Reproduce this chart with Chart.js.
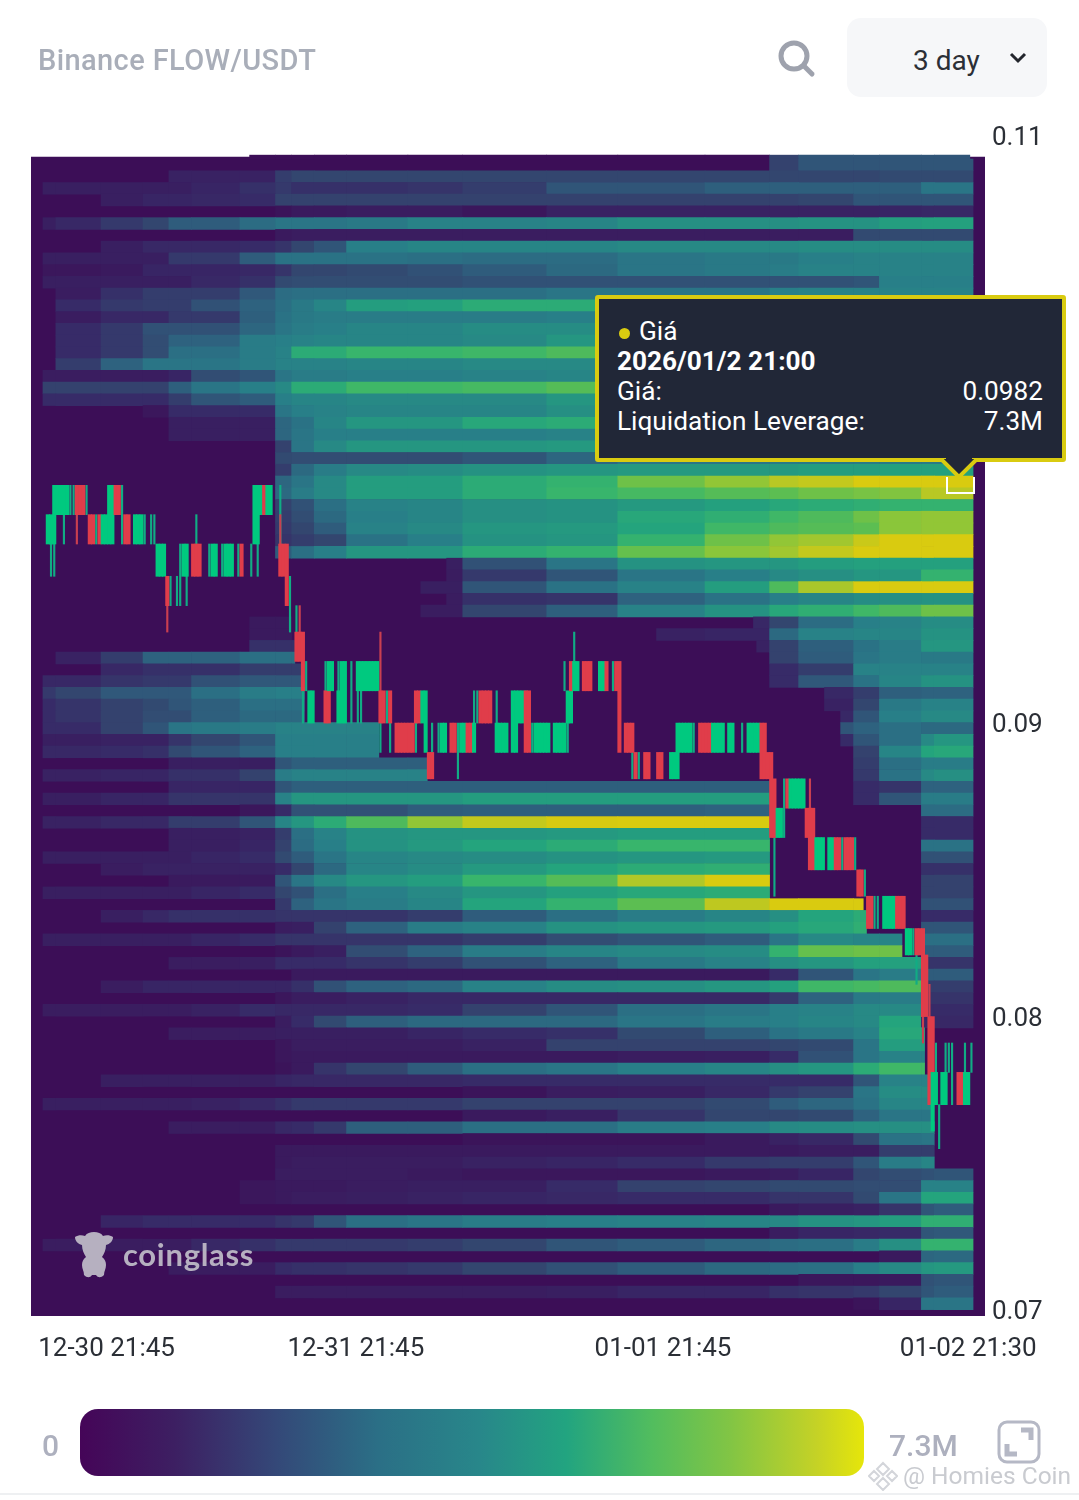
<!DOCTYPE html>
<html>
<head>
<meta charset="utf-8">
<title>Binance FLOW/USDT</title>
<script src="https://cdn.jsdelivr.net/npm/chart.js@4"></script>
<style>
body { margin: 0; background: #fff; width: 1079px; height: 1500px; position: relative; overflow: hidden; font-family: Roboto, sans-serif; }
#heatmap { position: absolute; left: 0; top: 0; }
.abs { position: absolute; white-space: nowrap; }
#title { left: 38px; top: 42px; font-size: 29px; font-weight: 500; color: #a9aeb9; line-height: 36px; letter-spacing: .4px; }
#select { left: 847px; top: 18px; width: 200px; height: 79px; background: #f6f7f9; border-radius: 14px; }
#period { left: 913px; top: 43px; font-size: 28px; color: #2b2f36; line-height: 36px; }
#tip { left: 595px; top: 295px; width: 463px; height: 159px; background: #212737; border: 4px solid #d9cb10; border-radius: 3px; color: #fff; font-size: 26.2px; line-height: 30px; }
#tip div { position: absolute; left: 18px; right: 19px; white-space: nowrap; }
#tip span.val { position: absolute; right: 0; }
#dot { display: inline-block; width: 11px; height: 11px; border-radius: 50%; background: #d9cb10; margin: 0 9px 1px 2px; }
#cell { left: 946px; top: 477px; width: 25px; height: 15px; border: 2px solid #fff; border-top: 0; }
#legendBar { left: 80px; top: 1409px; width: 784px; height: 67px; border-radius: 18px; }
#legendMin { left: 42px; top: 1428px; font-size: 30px; font-weight: 500; color: #adb0be; line-height: 36px; }
#legendMax { left: 889px; top: 1428px; font-size: 30px; font-weight: 500; color: #adb0be; line-height: 36px; }
#mark { left: 123px; top: 1235px; font-size: 31px; font-weight: 700; color: #b6b0c0; line-height: 38px; font-family: Lato, sans-serif; letter-spacing: .7px; }
#watermark { left: 903px; top: 1461px; font-size: 24.5px; color: #c9cbd0; line-height: 30px; }
#rule { left: 0; top: 1493px; width: 1079px; height: 2px; background: #eef0f2; }
</style>
</head>
<body>
<canvas id="heatmap" width="1079" height="1500"></canvas>

<div class="abs" id="title">Binance FLOW/USDT</div>
<svg class="abs" style="left:776px;top:38px" width="40" height="40" viewBox="0 0 40 40" fill="none" stroke="#9ea2ad" stroke-width="5"><circle cx="18" cy="18" r="13"/><path d="M28 28l8 8" stroke-linecap="round"/></svg>
<div class="abs" id="select"></div>
<div class="abs" id="period">3 day</div>
<svg class="abs" style="left:1008px;top:50px" width="20" height="16" viewBox="0 0 20 16" fill="none" stroke="#23262d" stroke-width="3"><path d="M3 4l7 7 7-7"/></svg>

<div class="abs" id="tip">
  <div style="top:17px"><span id="dot"></span>Giá</div>
  <div style="top:47px;font-weight:700">2026/01/2 21:00</div>
  <div style="top:77px">Giá:<span class="val">0.0982</span></div>
  <div style="top:107px">Liquidation Leverage:<span class="val">7.3M</span></div>
</div>
<svg class="abs" style="left:939px;top:458px" width="40" height="22" viewBox="0 0 40 22"><path d="M2 1L20 19 38 1" fill="#212737" stroke="#d9cb10" stroke-width="4"/><path d="M7 0h26v1H7z" fill="#212737"/></svg>
<div class="abs" id="cell"></div>

<svg class="abs" style="left:73px;top:1231px" width="42" height="48" viewBox="0 0 42 48" fill="#b6b0c0"><path d="M2 6c3-2 7-2 10-1 2-3 5-4 9-4s7 1 9 4c3-1 7-1 10 1 0 4-3 7-7 8 0 5-2 9-4 12 3 2 4 5 4 8 0 4-2 6-2 10-3 3-6 3-8 0h-4c-2 3-5 3-8 0 0-4-2-6-2-10 0-3 1-6 4-8-2-3-4-7-4-12C5 13 2 10 2 6z"/></svg>
<div class="abs" id="mark">coinglass</div>

<div class="abs" id="legendBar"></div>
<div class="abs" id="legendMin">0</div>
<div class="abs" id="legendMax">7.3M</div>
<svg class="abs" style="left:997px;top:1420px" width="44" height="44" viewBox="0 0 44 44" fill="none" stroke="#b5b8c5" stroke-width="3"><rect x="2" y="2" width="40" height="40" rx="8"/><path d="M24 10h10v10M10 24v10h10" stroke-width="5"/></svg>
<svg class="abs" style="left:868px;top:1461px" width="30" height="30" viewBox="0 0 30 30" fill="none" stroke="#d3d5da" stroke-width="2"><path d="M15 2l6 6-6 6-6-6zM6 10l5 5-5 5-5-5zM24 10l5 5-5 5-5-5zM15 17l6 6-6 6-6-6z"/></svg>
<div class="abs" id="watermark">@ Homies Coin</div>
<div class="abs" id="rule"></div>

<script>
// time buckets of the heat cells, in 15 minute candles from the first candle
const timeBreaks = [0, 4, 18, 31, 39, 46, 61, 72, 77, 84, 94, 113, 130, 156, 178, 205, 225, 234, 251, 259, 272, 276, 288];

// liquidation leverage in millions, one row per price level, top row first
const heatRows = [
  [0,0,0,0,0,0,0,0,0,0,0,0,0,0,0,0,1.5,2,2,2,2,2],
  [0,0,0,0,.7,.7,.7,1.4,1.6,1.6,1.6,1.6,1.6,1.6,1.6,1.6,1.6,1.6,1.6,1.7,1.7,1.7],
  [.6,.6,.6,.6,.6,.8,1.1,1.3,1.1,1.1,1.1,1.2,1.4,2,2,2.3,2.3,2.3,2.3,2.3,3,3],
  [0,0,.6,.8,.8,.9,1,1.5,1.5,1.5,1.5,1.5,1.5,1.5,1.5,1.5,1.5,1.6,2,2,2,2],
  [0,0,0,0,0,0,0,.2,.4,.4,.5,.5,.3,.7,.7,.7,.7,.7,.7,.8,.9,.9],
  [.6,.9,1.3,1.6,2.2,2.2,2.7,3,3,3,3.1,3.4,3.4,3.5,3.8,3.8,3.8,3.9,3.9,4.2,4.3,4.3],
  [0,0,0,0,0,0,0,.4,.5,.5,.5,.5,.5,.5,.5,.5,.5,.5,1.7,1.7,1.7,1.7],
  [0,0,.6,.9,.9,.9,1,1.2,1.6,2,3.3,3.5,3.5,3.5,3.6,3.6,3.6,3.7,3.7,3.7,3.7,3.7],
  [.6,.6,.6,.6,1.3,1.3,2.2,2.9,2.9,2.9,2.9,2.8,2.7,2.7,3,3.1,3.1,3.3,3.4,3.4,3.4,3.4],
  [.3,.3,.4,.8,.8,.8,.9,1.2,1.6,1.6,1.7,1.9,2.2,2.6,3,3.1,3.2,3.4,3.4,3.4,3.4,3.4],
  [.6,.6,.6,.6,.6,.9,1.1,1.7,1.8,1.8,1.8,1.8,1.9,1.9,1.9,1.9,1.9,1.9,2,3.3,3.3,3.3],
  [0,.5,1.1,1.4,1.4,1.4,2.1,2.7,2.8,2.8,2.8,2.8,2.8,3,3,3,3.3,3.4,3.4,3.4,3.4,3.4],
  [0,1,1.3,1.4,1.4,1.9,2.4,2.8,3.1,3.5,4.2,4.3,4.6,4.6,4.7,4.7,4.7,4.7,4.7,4.7,4.7,4.7],
  [0,.5,.9,.9,1.3,1.3,2.3,2.9,3.1,3.2,3.2,3.2,3.2,3.3,3.3,3.3,3.3,3.3,3.3,3.3,3.3,3.3],
  [0,1,1.3,1.9,1.9,1.9,2.5,3,3.2,3.3,3.5,3.5,3.7,3.7,3.8,3.8,3.8,3.8,3.8,3.8,3.8,3.8],
  [0,1,1.3,1.8,2.4,2.4,3.2,3.3,3.4,3.5,3.5,3.5,3.6,4,4,4,4,4,4,4,4,4],
  [0,1,1.3,1.8,2.8,2.8,3.2,3.4,4.6,4.6,4.9,4.9,5,5.2,5.2,5.2,5.2,5.2,5.2,5.2,5.2,5.2],
  [0,1.4,2.4,3,3,3,3.2,3.4,3.4,3.4,3.5,3.5,3.6,3.6,3.6,3.6,3.6,3.6,3.6,3.6,3.6,3.6],
  [.5,.5,.5,.5,.8,1.8,2,3,3.2,3.2,3.3,3.3,3.4,3.5,3.5,3.5,3.5,3.5,3.5,3.5,3.5,3.5],
  [1.5,1.5,1.5,1.5,2.3,3,3.3,3.6,4.6,4.6,5,5,5.1,5.3,5.3,5.3,5.3,5.3,5.3,5.3,5.3,5.3],
  [1,1,1,1,1.4,2,2.2,3.3,3.5,3.5,3.6,3.6,3.6,4,4,4,4,4,4,4,4,4],
  [0,0,0,.3,1,1,1,3,3.3,3.4,3.5,3.5,3.5,3.8,3.8,3.8,3.8,3.8,3.8,3.8,3.8,3.8],
  [0,0,0,0,.6,.6,.6,2.5,2.9,3.5,4,4,4.5,4.6,4.6,4.6,4.6,4.6,4.6,4.6,4.6,4.6],
  [0,0,0,0,.6,.6,.6,2.5,3,3.3,3.3,3.3,3.3,3.4,3.4,3.4,3.4,3.4,3.4,3.4,3.4,3.4],
  [0,0,0,0,0,0,0,1.5,3,3.6,4,4,4,4.1,4.1,4.1,4.1,4.1,4.1,4.1,4.1,4.1],
  [0,0,0,0,0,0,0,1.7,1.8,1.8,1.8,1.8,2,2.5,3,3,3.1,3.1,3.1,3.1,3.1,3.1],
  [0,0,0,0,0,0,0,1.4,2.6,3.2,3.6,3.7,3.9,4,4.1,4.1,4.1,4.2,4.2,4.3,4.3,4.3],
  [0,0,0,0,0,0,0,2.5,3,3.6,4.2,4.2,4.6,4.8,5.6,6,6.5,6.7,7.3,7.3,7.3,7.3],
  [0,0,0,0,0,0,0,2.6,3.2,3.6,4.2,4.2,4.6,4.9,5.1,5.3,5.4,5.6,5.7,5.8,6.5,6.5],
  [0,0,0,0,0,0,0,1.5,1.9,2.8,3.4,3.5,3.8,3.9,4.1,4.3,4.5,4.6,4.7,4.8,4.8,4.8],
  [0,0,0,0,0,0,0,1.4,1.8,2.6,3.3,3.5,3.8,3.9,4.5,4.7,5,5.2,5.6,5.9,6,6],
  [0,0,0,0,0,0,0,1.3,1.6,2.2,3.4,3.6,4,4.1,4.4,5,5.2,5.3,5.4,5.9,6,6],
  [0,0,0,0,0,0,0,1.2,1.4,1.6,2.9,3.3,3.9,4,4.8,5.6,6,6.2,6.8,7.3,7.3,7.3],
  [0,0,0,0,0,0,0,2.2,2.8,3.3,4,4,4.6,4.8,5.5,5.9,6.2,6.7,7.3,7.3,7.3,7.3],
  [0,0,0,0,0,0,0,0,0,0,0,.6,1.9,3,3.9,4,4,4.2,4.3,4.3,4.3,4.3],
  [0,0,0,0,0,0,0,0,0,0,0,.5,1.3,2,3,3.3,3.6,3.8,4,4,4.8,4.8],
  [0,0,0,0,0,0,0,0,0,0,0,.6,2,2.9,3.4,4.2,5.2,6.3,7.3,7.3,7.3,7.3],
  [0,0,0,0,0,0,0,0,0,0,0,.5,1.1,1.2,2.4,2.9,3.3,3.5,3.7,3.8,3.9,3.9],
  [0,0,0,0,0,0,0,0,0,0,0,.5,1.6,2.3,3.4,3.9,4.5,4.7,5,5.2,5.6,5.6],
  [0,0,0,0,0,0,.4,.4,0,0,0,0,0,0,0,.9,1.6,2.7,3.3,3.4,3.7,3.7],
  [0,0,0,0,0,0,.4,.4,0,0,0,0,0,0,.7,.8,2.6,3.4,3.5,3.5,3.9,3.9],
  [0,0,0,0,0,0,1.1,1.1,1.1,0,0,0,0,0,0,.7,1.5,2.3,2.9,3.2,4,4],
  [0,.7,1.4,2.4,2.4,2.4,2.8,2.8,2.8,0,0,0,0,0,0,0,1.5,2.2,3,3.2,3.1,3.1],
  [0,0,.9,1.1,1.1,1.1,1.4,1.4,1.4,0,0,0,0,0,0,0,1,1.4,3.4,3.4,3.4,3.4],
  [.9,.9,1.2,1.3,1.3,1.9,2.1,2.1,2.1,0,0,0,0,0,0,0,1,2.1,2.9,3.5,3.9,3.9],
  [1.3,1.6,2.1,2.1,2.1,2.8,3.2,3.3,3.3,0,0,0,0,0,0,0,0,.9,1.4,2.3,2.4,2.4],
  [1,1.2,1.5,1.7,2,2.3,2.8,2.8,2.8,0,0,0,0,0,0,0,0,.7,1.6,3.1,3.4,3.4],
  [1,1.2,1.5,1.8,1.8,2.3,2.6,2.6,2.6,0,0,0,0,0,0,0,0,.9,2,3.3,3.6,3.6],
  [1,1,1.5,2,3,3.1,3.2,3.4,3.4,3.4,3.4,0,0,0,0,0,0,2,2.4,2.8,2.6,2.6],
  [.6,.6,.7,.7,1.2,1.6,2,3.3,3.3,3.3,3.3,0,0,0,0,0,0,1,2,2.8,3.6,4],
  [.9,.9,1,1.1,1.7,2,2.4,3.3,3.3,3.3,3.3,0,0,0,0,0,0,0,1.5,3.5,4.4,4.5],
  [0,0,0,0,.6,.6,.6,2,2.3,2.3,2.3,2.3,0,0,0,0,0,0,1.4,2.8,3.2,3.2],
  [.7,.7,.8,.8,1.1,1.1,1.5,3.2,3.4,3.4,3.4,3.4,0,0,0,0,0,0,1.3,2.9,3.6,3.8],
  [0,0,0,0,.8,.8,.8,2,2.3,2.3,2.3,2.3,2.3,2.3,2.3,2.3,0,0,1,1.2,2.4,2.4],
  [.6,.6,.8,.8,1.2,1.2,1.2,3.4,4,4,4,4,4.2,4.2,4.2,4.2,0,0,1,2,3.2,3.2],
  [0,0,0,0,0,0,.3,1,1.9,1.9,1.9,2.2,2.3,2.3,2.3,2.4,0,0,0,0,2.7,2.7],
  [.7,.7,.9,.9,1.4,1.4,2,3.5,4,4.6,5.2,6,6.7,7.1,7.3,7.3,0,0,0,0,1,1],
  [0,0,0,0,.6,.6,.7,1.4,2.8,3.4,3.9,4,4,4.1,4.2,4.2,0,0,0,0,1,1],
  [0,0,0,0,.6,.6,.8,1.5,2.7,3.3,3.9,4.1,4.4,4.6,4.9,4.9,0,0,0,0,2.9,2.9],
  [.6,.6,.6,.6,.6,.8,1,1.7,2.2,3,3.5,3.6,3.7,3.9,4,4.1,0,0,0,0,1.9,1.9],
  [0,0,.5,.7,.7,.7,.7,1,1.6,2.6,3.5,3.7,4.1,4.4,4.6,4.7,0,0,0,0,1.1,1.1],
  [0,0,0,0,.4,.4,.4,2,3,3.6,4,4.2,4.9,5.3,6.4,7.3,0,0,0,0,1.5,1.5],
  [.6,.6,.6,.6,.6,.8,1,1.6,1.9,2.8,3.3,3.6,4,4.3,4.5,4.6,0,0,0,0,1.5,1.5],
  [0,0,0,0,0,0,0,1.3,2.4,3,3.2,3.5,4.4,4.8,5.4,6.6,7.3,7.3,7.3,0,1.9,1.9],
  [0,0,.6,.9,1.1,1.1,1.1,1.2,1.2,1.2,1.2,1.4,2.2,2.8,3.2,3.5,3.8,4.4,4.6,0,1,1],
  [0,0,0,0,0,0,0,.5,.6,1.5,2.4,3.2,3.4,3.9,4,4.1,4.3,4.5,4.7,0,2,2],
  [.6,.6,.6,.6,.6,.8,1,1.2,1.2,1.2,1.2,1.2,1.4,1.8,2,2.2,3,3.6,3.5,3.5,2.8,2.8],
  [0,0,0,0,0,0,0,.2,.4,.6,1.8,2.4,3.2,3.5,3.6,3.7,4.8,5.5,5.6,5.6,2.2,2.2],
  [0,0,0,0,.5,.5,.6,1,1,1,1.2,1.4,1.9,2.4,3.1,3.4,3.8,4,4.3,4.3,1.2,1.2],
  [0,0,0,0,0,0,0,0,.4,.4,.4,.4,.4,.4,.4,.4,1,2,3,3.2,2.2,2.2],
  [0,0,.5,.8,.8,.8,.8,.8,1.1,1.9,2.4,2.6,3.4,3.7,3.8,4,4.3,5,5.1,5.2,1.4,1.4],
  [0,0,0,0,0,0,0,.3,.5,.5,.7,.9,.9,.9,.9,.9,1.3,2.4,3.1,3.2,1.2,1.2],
  [.5,.5,.5,.5,.5,.7,1,.9,.9,.9,.9,1,1.5,2,2.8,3,3.3,3.4,3.6,3.6,1,1],
  [0,0,0,0,0,0,0,.5,1,1.7,2.3,2.6,2.6,2.6,3,3.2,3.3,3.5,3.6,4.4,.9,.9],
  [0,0,0,0,.5,.5,.5,.6,.6,.6,.6,.8,1,1.1,1.7,2.3,2.9,3.1,3.4,4.5,4.5,0],
  [0,0,0,0,0,0,0,.3,.5,.5,.5,.5,.7,1.5,1.5,1.5,1.6,1.7,3,4.2,4.2,0],
  [0,0,0,0,0,0,0,.3,.4,.4,.4,.4,.4,.4,.5,.6,1,1.9,3,3.4,3.4,0],
  [0,0,0,0,0,0,0,.2,.4,1.2,1.6,2.2,2.8,3,3.3,3.5,3.8,4,4.6,5,5,0],
  [0,0,.6,.6,.6,.6,.6,.8,.9,.9,.9,.9,1,1,1,1,1,1,2,3.4,3.4,0],
  [0,0,0,0,0,0,0,0,0,0,0,0,.2,.5,.6,.9,1.3,1.5,3,3.7,3.7,0],
  [.6,.6,.6,.6,.6,.7,.9,1.1,1.3,1.3,1.3,1.3,1.5,1.5,1.5,1.7,2.2,2.5,2.9,3.5,3.5,0],
  [0,0,0,0,0,0,0,0,0,0,0,0,.4,.6,1.2,1.6,1.6,1.7,2.4,3,3,0],
  [0,0,0,0,.5,.5,.5,.9,1,1.3,2.3,2.3,2.8,2.8,3.2,3.3,3.6,3.7,3.8,3.8,3.8,0],
  [0,0,0,0,0,0,0,0,0,0,0,0,.2,.2,.2,.4,.7,.9,1.7,2.9,3,0],
  [0,0,0,0,0,0,0,.4,.4,.4,.4,.4,.4,.4,.4,.4,.4,.5,.5,1.4,1.4,0],
  [0,0,0,0,0,0,0,.4,.5,.5,.5,.5,.7,.8,1,1.3,1.4,1.4,2,3.2,3.5,0],
  [0,0,0,0,0,0,0,.5,.5,.5,.5,.4,.3,.3,.3,.4,.5,.8,1.6,1.8,1.9,2],
  [0,0,0,0,0,0,.3,.4,.4,.4,.5,.6,.6,1,1.5,1.6,1.7,1.7,1.8,1.8,3.4,3.4],
  [0,0,0,0,0,0,.3,.4,.5,.5,.6,.7,.8,.9,1,1,1.2,1.2,1.7,3,4.4,4.4],
  [0,0,0,0,0,0,0,0,0,0,0,0,0,0,0,0,.4,.6,.7,1.2,2,2.2],
  [0,0,.8,1,1,1,1,1.2,1.3,2,2.8,3,3.2,3.3,3.4,3.5,3.6,3.9,4,4.2,4.7,4.7],
  [0,0,0,0,0,0,0,0,0,0,0,0,0,0,0,0,.5,.8,.9,1,2,2.1],
  [.5,.5,.5,.5,.5,.9,1.1,1.3,1.3,1.3,1.3,1.4,1.6,2,2.2,2.5,2.7,2.8,3.2,3.8,4.8,4.8],
  [0,0,0,0,0,0,0,0,0,0,0,0,0,0,0,0,0,0,0,.4,2.5,2.6],
  [0,0,0,0,.5,.5,.5,1,1.1,1.1,1.2,1.3,1.6,1.9,2.2,2.6,2.7,2.8,3.3,3.6,4,4.1],
  [0,0,0,0,0,0,0,0,0,0,0,0,0,0,0,0,0,.3,.3,.4,1.9,2],
  [0,0,0,0,0,0,0,.5,.5,.5,.5,.5,.5,.6,.8,.8,1.1,1.2,1.3,1.6,2,2.2],
  [0,0,0,0,0,0,0,0,0,0,0,0,0,0,0,0,0,0,.2,.8,3,3]
];

// stretches of a row already swept by price: [row, from candle, to candle]
const clearedRanges = [
  [34,0,125],[35,0,125],[36,0,117],[37,0,125],[38,0,117],
  [39,0,64],[39,77,220],[40,0,64],[40,77,190],[41,0,64],[41,78,221],[42,0,4],[42,78,225],[43,0,18],[43,80,225],
  [44,80,225],[45,81,242],[46,81,242],[47,81,247],[48,104,247],[49,104,247],[50,104,251],[51,119,251],[52,119,251],
  [53,225,251],[54,225,251],[55,225,272],[56,225,272],[57,225,272],[58,226,272],[59,226,272],[60,226,272],
  [61,227,272],[62,227,272],[63,254,272],[64,255,272],[65,255,272],[66,266,272],[67,266,272],
  [74,273,276],[75,273,276],[76,273,276],[77,273,276],[78,275,276],[79,275,276],[80,275,276],[81,275,276]
];

// candle bodies: [first candle, last candle, open, close]
const candleRuns = [
  [1,2,.0961,.0971],[3,3,.0961,.0981],[4,7,.0971,.0981],[10,12,.0981,.0971],[14,15,.0971,.0961],[17,17,.0971,.0961],
  [18,19,.0961,.0971],[20,21,.0961,.0981],[22,23,.0981,.0971],[25,26,.0971,.0961],[28,30,.0961,.0971],
  [35,37,.095,.0961],[38,38,.095,.094],[43,44,.095,.0961],[46,48,.0961,.095],[52,53,.095,.0961],[56,58,.095,.0961],
  [61,61,.0961,.095],[65,66,.0961,.0981],[67,67,.0971,.0981],[68,68,.0981,.0971],[69,70,.0971,.0981],
  [73,74,.0961,.095],[75,75,.0961,.094],[78,79,.0931,.0921],[80,80,.0931,.0911],
  [82,83,.09,.0911],[87,88,.0911,.09],[88,89,.0911,.0921],[91,91,.09,.0911],[92,93,.09,.0921],[97,98,.0911,.0921],
  [99,103,.0911,.0921],[104,105,.0911,.09],[107,107,.0911,.09],[109,114,.09,.089],[115,116,.0911,.09],
  [117,117,.09,.0911],[118,118,.089,.0911],[119,120,.089,.0881],[123,124,.089,.09],[126,127,.09,.089],
  [129,130,.089,.09],[131,132,.09,.089],[133,133,.089,.09],[135,138,.0911,.09],[140,143,.089,.09],
  [145,146,.089,.0911],[147,148,.09,.0911],[149,150,.0911,.089],[152,156,.089,.09],[158,161,.089,.09],
  [162,163,.09,.0911],[163,163,.0921,.0911],[164,165,.0911,.0921],[167,169,.0921,.0911],[172,173,.0911,.0921],
  [174,174,.0921,.0911],[177,177,.0921,.0911],[178,178,.0921,.089],[180,182,.09,.089],[183,183,.089,.0881],
  [186,187,.089,.0881],[190,191,.089,.0881],[194,195,.0881,.089],[196,196,.0881,.09],[197,200,.089,.09],
  [203,206,.09,.089],[207,210,.089,.09],[212,213,.089,.09],[218,221,.089,.09],[222,223,.09,.0881],
  [224,224,.089,.0881],[225,225,.089,.0861],[226,226,.0881,.0861],[227,228,.0861,.0871],[230,230,.0881,.0871],
  [231,235,.0871,.0881],[236,236,.0871,.0861],[237,238,.0871,.085],[239,241,.085,.0861],[243,244,.085,.0861],
  [245,246,.0861,.085],[248,250,.0861,.085],[252,253,.085,.0841],[255,256,.0841,.083],[260,263,.083,.0841],
  [264,266,.0841,.083],[267,268,.0821,.083],[270,270,.083,.0821],[271,271,.083,.0821],[272,272,.083,.08],
  [273,273,.0821,.08],[274,274,.08,.077],[275,275,.08,.0781],[275,276,.077,.0781],[275,275,.0761,.077],
  [278,279,.077,.0781],[283,284,.0781,.077],[285,286,.077,.0781]
];

// thin wicks and flat candles: [candle, high, low, rising]
const wickLines = [
  [2,.0961,.095,1],[3,.0961,.095,1],[6,.0971,.0961,1],[8,.0981,.0971,1],[9,.0981,.0971,1],[10,.0971,.0961,0],[13,.0981,.0971,1],
  [16,.0971,.0961,1],[24,.0981,.0961,1],[31,.0971,.0961,1],[33,.0971,.0961,1],[34,.0971,.0961,1],
  [38,.094,.0931,0],[39,.095,.094,1],[41,.095,.094,1],[42,.0961,.094,1],[44,.095,.094,1],[47,.0971,.0961,1],
  [51,.0961,.095,1],[55,.0961,.095,1],[60,.0961,.095,1],[64,.0961,.095,1],[66,.0961,.095,1],
  [73,.0981,.0961,1],[73,.0971,.0961,0],[76,.095,.0931,1],[78,.094,.0931,1],[79,.094,.0931,0],
  [80,.0911,.09,1],[81,.0921,.0911,1],[87,.0921,.0911,1],[91,.0921,.0911,1],[95,.0921,.09,1],[97,.0911,.09,1],[98,.0911,.09,1],
  [104,.0931,.0911,0],[104,.09,.089,1],[106,.0911,.09,1],[107,.09,.089,1],[115,.09,.089,1],[120,.09,.089,1],
  [122,.09,.089,1],[128,.09,.0881,1],[133,.0911,.09,1],[134,.0911,.09,1],[140,.0911,.09,1],[149,.0911,.09,1],
  [151,.09,.089,1],[161,.0921,.0911,1],[162,.09,.089,1],[164,.0931,.0921,1],[176,.0921,.0911,1],[184,.089,.0881,1],
  [182,.089,.0881,1],[201,.09,.089,1],[216,.09,.089,1],[229,.0881,.0861,1],[226,.0861,.0841,1],[237,.0881,.0871,0],
  [247,.0861,.085,1],[251,.0861,.085,1],[254,.085,.0841,1],[257,.0841,.083,1],[258,.0841,.083,1],[269,.083,.0821,1],
  [270,.0821,.0811,1],[272,.08,.0791,0],[274,.0811,.08,0],[276,.0791,.0781,1],[277,.077,.0755,1],
  [279,.0791,.0781,1],[280,.0791,.0781,1],[281,.0791,.077,1],[285,.0791,.0781,1],[287,.0791,.0781,1]
];

const xTickTimes = [19.7, 96.9, 192, 286.5];
const xTickLabels = ['12-30 21:45', '12-31 21:45', '01-01 21:45', '01-02 21:30'];
const yTickValues = [0.07, 0.08, 0.09, 0.1, 0.11];
const yTickLabels = ['0.07', '0.08', '0.09', '0.10', '0.11'];

const heatColors = [[0,'#3c0e57'],[1,'#372b68'],[1.6,'#33466f'],[2.2,'#2f5c7c'],[2.8,'#2b6f84'],[3.3,'#287f88'],[3.9,'#259282'],[4.4,'#24a47d'],[4.9,'#38b56c'],[5.4,'#5cbe52'],[5.9,'#8ac63a'],[6.5,'#b8c824'],[7,'#d4ca12'],[7.3,'#d9cb10']];
const legendColors = ['#450558 0%','#3d1f62 12%','#344878 25%','#2b6f86 38%','#28878a 51%','#22a480 62%','#52bd5e 73%','#82c544 83%','#c5d226 94%','#e6e60a 100%'];

const priceBottom = 0.0698, priceTop = 0.11;
const firstRowPrice = 0.109017, rowStep = 0.0004, rowHeight = 11.75;
const timeMin = -3.7, timeMax = 291.7;
const greenCandle = '#00c97f', redCandle = '#e03d4a', greenWick = '#11ac84', redWick = '#c93f50';

function rgbOf(hex) {
    return [1, 3, 5].map(i => parseInt(hex.slice(i, i + 2), 16));
}

function heatColor(v) {
    for (let i = 1; i < heatColors.length; i++) {
        if (v <= heatColors[i][0]) {
            const [a, ca] = heatColors[i - 1], [b, cb] = heatColors[i];
            const k = (v - a) / (b - a), c0 = rgbOf(ca), c1 = rgbOf(cb);
            return `rgb(${c0.map((c, j) => Math.round(c + (c1[j] - c) * k)).join(',')})`;
        }
    }
    return heatColors[heatColors.length - 1][1];
}

// a cell minus the swept stretches of its row
function visiblePieces(row, from, to) {
    let pieces = [[from, to]];
    clearedRanges.filter(r => r[0] === row).forEach(r => {
        const next = [];
        pieces.forEach(([a, b]) => {
            if (r[2] <= a || r[1] >= b) { next.push([a, b]); return; }
            if (a < r[1]) next.push([a, r[1]]);
            if (r[2] < b) next.push([r[2], b]);
        });
        pieces = next;
    });
    return pieces;
}

const heatCells = [];
heatRows.forEach((values, row) => {
    values.forEach((v, c) => {
        if (!v) return;
        visiblePieces(row, timeBreaks[c], timeBreaks[c + 1]).forEach(p => {
            heatCells.push({ x: p, y: firstRowPrice - row * rowStep, v });
        });
    });
});

// thin raised strip on top of the first row
const topStrip = [];
heatRows[0].forEach((v, c) => {
    const from = Math.max(timeBreaks[c], 64), to = Math.min(timeBreaks[c + 1], 287);
    if (from < to) topStrip.push({ x: [from, to], y: 0.10928, v });
});

const bodies = [];
candleRuns.forEach(([from, to, open, close]) => {
    for (let t = from; t <= to; t++) bodies.push({ x: t + 0.5, y: [open, close], up: close > open });
});
const wicks = wickLines.map(([t, high, low, up]) => ({ x: t + 0.5, y: [low, high], up: !!up }));

document.getElementById('legendBar').style.background = `linear-gradient(90deg, ${legendColors.join(',')})`;

new Chart(document.getElementById('heatmap'), {
    type: 'bar',
    data: {
        datasets: [
            {
                label: 'Candles',
                data: bodies,
                order: 1,
                grouped: false,
                barThickness: 3.4,
                backgroundColor: ctx => ctx.raw.up ? greenCandle : redCandle
            },
            {
                label: 'Wicks',
                data: wicks,
                order: 2,
                grouped: false,
                barThickness: 1.5,
                backgroundColor: ctx => ctx.raw.up ? greenWick : redWick
            },
            {
                label: 'Liquidation Leverage',
                data: heatCells,
                indexAxis: 'y',
                order: 3,
                grouped: false,
                barThickness: rowHeight,
                backgroundColor: ctx => heatColor(ctx.raw.v)
            },
            {
                label: 'Top strip',
                data: topStrip,
                indexAxis: 'y',
                order: 4,
                grouped: false,
                barThickness: 4,
                backgroundColor: ctx => heatColor(ctx.raw.v)
            },
            {
                label: 'Background',
                data: [{ x: (timeMin + timeMax) / 2, y: [priceBottom, 0.10928] }],
                order: 5,
                grouped: false,
                barThickness: 954,
                backgroundColor: heatColors[0][1]
            }
        ]
    },
    options: {
        responsive: false,
        animation: false,
        events: [],
        layout: { padding: { left: 31, top: 136, right: 0, bottom: 0 } },
        plugins: { legend: { display: false }, tooltip: { enabled: false } },
        scales: {
            x: {
                type: 'linear',
                offset: false,
                min: timeMin,
                max: timeMax,
                grid: { display: false, drawTicks: false },
                border: { display: false },
                afterBuildTicks: scale => { scale.ticks = xTickTimes.map(value => ({ value })); },
                afterFit: scale => { scale.height = 184; },
                ticks: {
                    autoSkip: false,
                    maxRotation: 0,
                    padding: 18,
                    color: '#2b2f36',
                    font: { family: 'Roboto', size: 26 },
                    callback: (value, index) => xTickLabels[index]
                }
            },
            y: {
                type: 'linear',
                position: 'right',
                offset: false,
                min: priceBottom,
                max: priceTop,
                grid: { display: false, drawTicks: false },
                border: { display: false },
                afterBuildTicks: scale => { scale.ticks = yTickValues.map(value => ({ value })); },
                afterFit: scale => { scale.width = 94; },
                ticks: {
                    autoSkip: false,
                    padding: 7,
                    labelOffset: 2.5,
                    color: '#2b2f36',
                    font: { family: 'Roboto', size: 26 },
                    callback: (value, index) => yTickLabels[index]
                }
            }
        }
    }
});
</script>
</body>
</html>
